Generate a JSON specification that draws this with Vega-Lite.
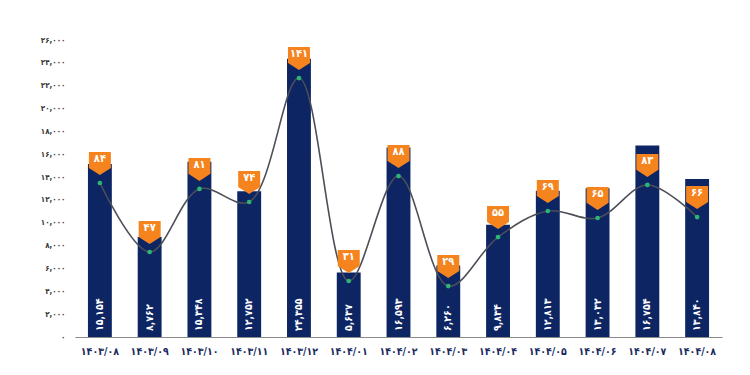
{
  "$schema": "https://vega.github.io/schema/vega-lite/v6.json",
  "autosize": "none",
  "width": 647,
  "height": 297,
  "padding": {"left": 75, "top": 40, "right": 28, "bottom": 38},
  "background": "white",
  "config": {
    "view": {"stroke": null},
    "font": "DejaVu Sans Condensed",
    "axisY": {
      "title": null, "domain": false, "ticks": false, "grid": false, "labelOverlap": false,
      "labelFont": "DejaVu Sans Condensed", "labelFontWeight": "bold", "labelFontSize": 8,
      "labelColor": "#3a3a3a", "labelPadding": 10
    }
  },
  "data": {
    "values": [
      {"month": "۱۴۰۳/۰۸", "value": 15154, "line": 13480, "count": 84},
      {"month": "۱۴۰۳/۰۹", "value": 8762, "line": 7440, "count": 47},
      {"month": "۱۴۰۳/۱۰", "value": 15348, "line": 12960, "count": 81},
      {"month": "۱۴۰۳/۱۱", "value": 12752, "line": 11820, "count": 74},
      {"month": "۱۴۰۳/۱۲", "value": 24355, "line": 22670, "count": 141},
      {"month": "۱۴۰۴/۰۱", "value": 5637, "line": 4900, "count": 31},
      {"month": "۱۴۰۴/۰۲", "value": 16593, "line": 14090, "count": 88},
      {"month": "۱۴۰۴/۰۳", "value": 6260, "line": 4460, "count": 29},
      {"month": "۱۴۰۴/۰۴", "value": 9834, "line": 8750, "count": 55},
      {"month": "۱۴۰۴/۰۵", "value": 12813, "line": 11030, "count": 69},
      {"month": "۱۴۰۴/۰۶", "value": 13032, "line": 10420, "count": 65},
      {"month": "۱۴۰۴/۰۷", "value": 16754, "line": 13310, "count": 83},
      {"month": "۱۴۰۴/۰۸", "value": 13840, "line": 10500, "count": 66}
    ]
  },
  "transform": [
    {"calculate": "replace(replace(replace(replace(replace(replace(replace(replace(replace(replace(format(datum.value, ','), regexp('0','g'),'۰'), regexp('1','g'),'۱'), regexp('2','g'),'۲'), regexp('3','g'),'۳'), regexp('4','g'),'۴'), regexp('5','g'),'۵'), regexp('6','g'),'۶'), regexp('7','g'),'۷'), regexp('8','g'),'۸'), regexp('9','g'),'۹')", "as": "valueFa"},
    {"calculate": "replace(replace(replace(replace(replace(replace(replace(replace(replace(replace(format(datum.count, 'd'), regexp('0','g'),'۰'), regexp('1','g'),'۱'), regexp('2','g'),'۲'), regexp('3','g'),'۳'), regexp('4','g'),'۴'), regexp('5','g'),'۵'), regexp('6','g'),'۶'), regexp('7','g'),'۷'), regexp('8','g'),'۸'), regexp('9','g'),'۹')", "as": "countFa"}
  ],
  "encoding": {
    "x": {
      "field": "month", "type": "nominal", "sort": null,
      "scale": {"paddingInner": 0.52, "paddingOuter": 0.26},
      "axis": {
        "title": null, "labelAngle": 0, "ticks": false, "labelOverlap": false,
        "domainColor": "#8a8a8a", "domainWidth": 1.2,
        "labelFont": "DejaVu Sans Condensed", "labelFontWeight": "bold", "labelFontSize": 10.5,
        "labelColor": "#1b2b5e", "labelPadding": 9
      }
    }
  },
  "layer": [
    {
      "mark": {"type": "bar", "color": "#0d2563"},
      "encoding": {
        "y": {
          "field": "value", "type": "quantitative",
          "scale": {"domain": [0, 26000], "nice": false},
          "axis": {
            "values": [0, 2000, 4000, 6000, 8000, 10000, 12000, 14000, 16000, 18000, 20000, 22000, 24000, 26000],
            "labelExpr": "replace(replace(replace(replace(replace(replace(replace(replace(replace(replace(format(datum.value, ','), regexp('0','g'),'۰'), regexp('1','g'),'۱'), regexp('2','g'),'۲'), regexp('3','g'),'۳'), regexp('4','g'),'۴'), regexp('5','g'),'۵'), regexp('6','g'),'۶'), regexp('7','g'),'۷'), regexp('8','g'),'۸'), regexp('9','g'),'۹')"
          }
        }
      }
    },
    {
      "mark": {"type": "text", "angle": 270, "align": "left", "baseline": "middle", "yOffset": -6, "color": "white", "font": "DejaVu Sans Condensed", "fontWeight": "bold", "fontSize": 10.5},
      "encoding": {
        "y": {"datum": 0, "type": "quantitative",
          "axis": {
            "values": [0, 2000, 4000, 6000, 8000, 10000, 12000, 14000, 16000, 18000, 20000, 22000, 24000, 26000],
            "labelExpr": "replace(replace(replace(replace(replace(replace(replace(replace(replace(replace(format(datum.value, ','), regexp('0','g'),'۰'), regexp('1','g'),'۱'), regexp('2','g'),'۲'), regexp('3','g'),'۳'), regexp('4','g'),'۴'), regexp('5','g'),'۵'), regexp('6','g'),'۶'), regexp('7','g'),'۷'), regexp('8','g'),'۸'), regexp('9','g'),'۹')"
          }},
        "text": {"field": "valueFa"}
      }
    },
    {
      "mark": {"type": "line", "interpolate": "catmull-rom", "color": "#4d4f58", "strokeWidth": 1.6},
      "encoding": {"y": {"field": "line", "type": "quantitative",
          "axis": {
            "values": [0, 2000, 4000, 6000, 8000, 10000, 12000, 14000, 16000, 18000, 20000, 22000, 24000, 26000],
            "labelExpr": "replace(replace(replace(replace(replace(replace(replace(replace(replace(replace(format(datum.value, ','), regexp('0','g'),'۰'), regexp('1','g'),'۱'), regexp('2','g'),'۲'), regexp('3','g'),'۳'), regexp('4','g'),'۴'), regexp('5','g'),'۵'), regexp('6','g'),'۶'), regexp('7','g'),'۷'), regexp('8','g'),'۸'), regexp('9','g'),'۹')"
          }}}
    },
    {
      "mark": {"type": "point", "filled": true, "color": "#2bb673", "size": 22, "opacity": 1},
      "encoding": {"y": {"field": "line", "type": "quantitative",
          "axis": {
            "values": [0, 2000, 4000, 6000, 8000, 10000, 12000, 14000, 16000, 18000, 20000, 22000, 24000, 26000],
            "labelExpr": "replace(replace(replace(replace(replace(replace(replace(replace(replace(replace(format(datum.value, ','), regexp('0','g'),'۰'), regexp('1','g'),'۱'), regexp('2','g'),'۲'), regexp('3','g'),'۳'), regexp('4','g'),'۴'), regexp('5','g'),'۵'), regexp('6','g'),'۶'), regexp('7','g'),'۷'), regexp('8','g'),'۸'), regexp('9','g'),'۹')"
          }}}
    },
    {
      "mark": {"type": "point", "filled": true, "opacity": 1, "color": "#f5841f", "size": 484, "shape": "M-1,-1.05 L1,-1.05 L1,0.4 L0,1.05 L-1,0.4 Z", "yOffset": -19.5},
      "encoding": {"y": {"field": "line", "type": "quantitative",
          "axis": {
            "values": [0, 2000, 4000, 6000, 8000, 10000, 12000, 14000, 16000, 18000, 20000, 22000, 24000, 26000],
            "labelExpr": "replace(replace(replace(replace(replace(replace(replace(replace(replace(replace(format(datum.value, ','), regexp('0','g'),'۰'), regexp('1','g'),'۱'), regexp('2','g'),'۲'), regexp('3','g'),'۳'), regexp('4','g'),'۴'), regexp('5','g'),'۵'), regexp('6','g'),'۶'), regexp('7','g'),'۷'), regexp('8','g'),'۸'), regexp('9','g'),'۹')"
          }}}
    },
    {
      "mark": {"type": "text", "yOffset": -24, "color": "white", "font": "DejaVu Sans Condensed", "fontWeight": "bold", "fontSize": 11, "baseline": "middle"},
      "encoding": {
        "y": {"field": "line", "type": "quantitative",
          "axis": {
            "values": [0, 2000, 4000, 6000, 8000, 10000, 12000, 14000, 16000, 18000, 20000, 22000, 24000, 26000],
            "labelExpr": "replace(replace(replace(replace(replace(replace(replace(replace(replace(replace(format(datum.value, ','), regexp('0','g'),'۰'), regexp('1','g'),'۱'), regexp('2','g'),'۲'), regexp('3','g'),'۳'), regexp('4','g'),'۴'), regexp('5','g'),'۵'), regexp('6','g'),'۶'), regexp('7','g'),'۷'), regexp('8','g'),'۸'), regexp('9','g'),'۹')"
          }},
        "text": {"field": "countFa"}
      }
    }
  ]
}
